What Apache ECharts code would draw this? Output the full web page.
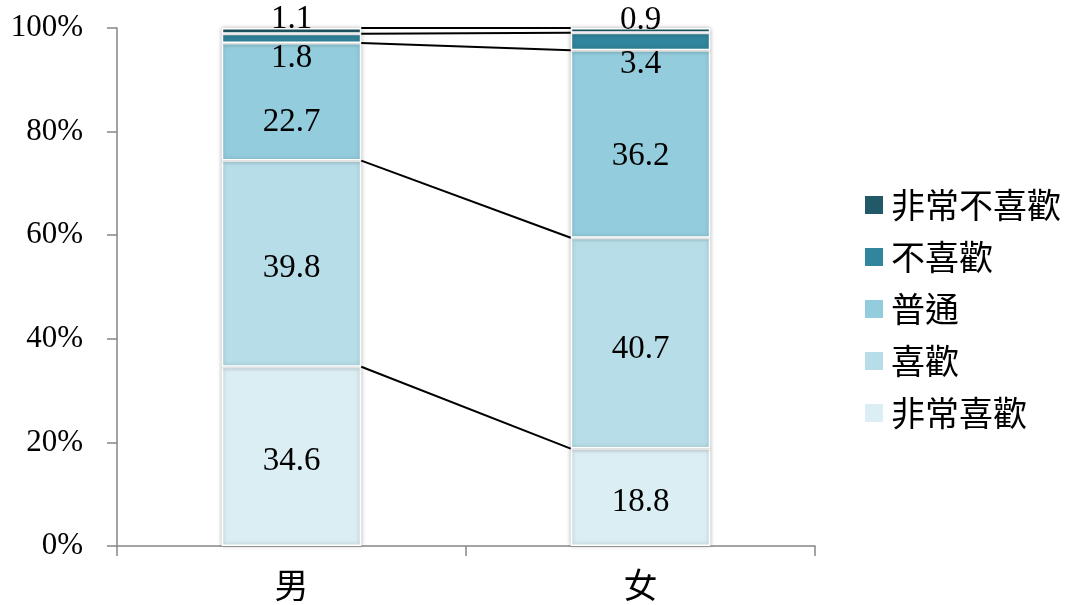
<!DOCTYPE html>
<html><head><meta charset="utf-8">
<script src="https://cdn.jsdelivr.net/npm/echarts@6/dist/echarts.min.js"></script>
<style>html,body{margin:0;padding:0;background:#fff}#c{width:1067px;height:605px}</style>
</head><body><div id="c"></div>
<script>
var categories = ['男', '女'];
var seriesNames = ['非常喜歡', '喜歡', '普通', '不喜歡', '非常不喜歡'];
var vVeryLike = [34.6, 18.8];
var vLike = [39.8, 40.7];
var vNormal = [22.7, 36.2];
var vDislike = [1.8, 3.4];
var vVeryDislike = [1.1, 0.9];
var yTicks = [0, 20, 40, 60, 80, 100];

var values = [vVeryLike, vLike, vNormal, vDislike, vVeryDislike];
var colors = ['#DBEEF4', '#B7DEE8', '#93CDDD', '#31859C', '#215968'];
// label offsets for small segments (styling only)
var labelOffsets = [
  [[0,5],[0,5]],
  [[0,5],[0,6]],
  [[0,21],[0,12]],
  [[0,20],[0,23]],
  [[0,-12],[0,-10]]
];
var serif = '"Liberation Serif","Times New Roman",serif';
var cjk = '"Noto Sans CJK TC","Noto Sans CJK SC",sans-serif';

var series = seriesNames.map(function(name, i){
  return {
    name: name, type: 'bar', stack: 'total', barWidth: '40%',
    itemStyle: {color: colors[i], borderColor: '#fff', borderWidth: 1.5,
      shadowBlur: 4, shadowColor: 'rgba(0,0,0,0.25)'},
    label: {show: true, position: 'inside', color: '#000', fontFamily: serif, fontSize: 33},
    data: values[i].map(function(v, j){
      return {value: v, label: {offset: labelOffsets[i][j]}};
    })
  };
});

// cumulative boundaries for series lines
var boundaries = [];
var cumM = 0, cumF = 0;
for (var i = 0; i < values.length; i++) {
  cumM += values[i][0]; cumF += values[i][1];
  boundaries.push([0, +cumM.toFixed(1), +cumF.toFixed(1)]);
}
series.push({
  type: 'custom', name: 'lines', silent: true, z: 5,
  encode: {x: 0, y: 1},
  data: boundaries,
  renderItem: function(params, api){
    var p0 = api.coord([0, api.value(1)]);
    var p1 = api.coord([1, api.value(2)]);
    var hw = api.size([1, 0])[0] * 0.2;
    return {type: 'line', shape: {x1: p0[0] + hw, y1: p0[1], x2: p1[0] - hw, y2: p1[1]},
      style: {stroke: '#000', lineWidth: 2}};
  }
});

var chart = echarts.init(document.getElementById('c'));
chart.setOption({
  animation: false,
  backgroundColor: '#fff',
  grid: {left: 117, right: 252, top: 28, bottom: 59},
  legend: {
    orient: 'vertical', left: 863, top: 188, padding: 0,
    itemWidth: 20, itemHeight: 20, itemGap: 18,
    icon: 'rect',
    data: seriesNames.slice().reverse(),
    textStyle: {fontFamily: cjk, fontSize: 34, color: '#000', lineHeight: 34, padding: [0,0,0,2]}
  },
  xAxis: {
    type: 'category', data: categories,
    axisLine: {lineStyle: {color: '#868686', width: 1.5}},
    axisTick: {show: true, length: 10, lineStyle: {color: '#868686', width: 1.5}},
    axisLabel: {fontFamily: cjk, fontSize: 34, color: '#000', margin: 22}
  },
  yAxis: {
    type: 'value', min: yTicks[0], max: yTicks[yTicks.length-1], interval: 20,
    axisLine: {show: true, lineStyle: {color: '#868686', width: 1.5}},
    axisTick: {show: true, length: 10, lineStyle: {color: '#868686', width: 1.5}},
    splitLine: {show: false},
    axisLabel: {formatter: '{value}%', fontFamily: serif, fontSize: 31, color: '#000', margin: 34}
  },
  series: series
});
</script></body></html>
